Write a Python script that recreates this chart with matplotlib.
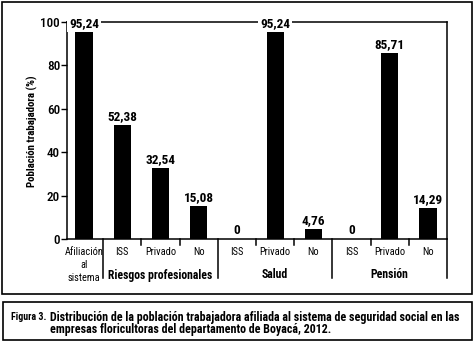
import matplotlib
matplotlib.use("Agg")
import matplotlib.pyplot as plt
from matplotlib.patches import Rectangle

plt.rcParams["font.family"] = ["Roboto Condensed", "Liberation Sans Narrow", "Liberation Sans", "DejaVu Sans"]

categories = ["Afiliación\nal\nsistema", "ISS", "Privado", "No",
              "ISS", "Privado", "No",
              "ISS", "Privado", "No"]
values = [95.24, 52.38, 32.54, 15.08, 0, 95.24, 4.76, 0, 85.71, 14.29]
value_labels = ["95,24", "52,38", "32,54", "15,08", "0", "95,24", "4,76", "0", "85,71", "14,29"]
groups = ["Riesgos profesionales", "Salud", "Pensión"]
group_centers = [2, 5, 8]
short_ticks = [1.5, 2.5, 4.5, 5.5, 7.5, 8.5]
long_ticks = [0.5, 3.5, 6.5]
caption_num = "Figura 3."
caption_lines = ["Distribución de la población trabajadora afiliada al sistema de seguridad social en las",
                 "empresas floricultoras del departamento de Boyacá, 2012."]

W, H = 475, 342
fig = plt.figure(figsize=(W / 100, H / 100), dpi=100)


def fx(px):
    return px / W


def fy(py):
    return 1 - py / H


def fit_width(txt, target_px):
    # scale font size so the text spans target_px pixels
    r = fig.canvas.get_renderer()
    w = txt.get_window_extent(renderer=r).width
    txt.set_fontsize(txt.get_fontsize() * target_px / w)


# outer boxes
fig.patches.append(Rectangle((fx(1.5), fy(294)), fx(471.5) - fx(1.5), fy(1.5) - fy(294),
                             transform=fig.transFigure, fill=False, lw=1.2, ec="black"))
fig.patches.append(Rectangle((fx(2.5), fy(340)), fx(472) - fx(2.5), fy(302) - fy(340),
                             transform=fig.transFigure, fill=False, lw=1.2, ec="black"))

ax = fig.add_axes([fx(67), fy(239), fx(447) - fx(67), fy(22) - fy(239)])
x = list(range(len(values)))
ax.bar(x, values, width=0.45, color="black", zorder=2)

ax.set_xlim(-0.445, 9.497)
ax.set_ylim(0, 100)
ax.set_yticks([0, 20, 40, 60, 80, 100])
ax.tick_params(axis="y", direction="out", length=4, width=1, labelsize=9.5, pad=1)
for lbl in ax.get_yticklabels():
    lbl.set_fontweight("medium")
ax.set_xticks([])
for s in ax.spines.values():
    s.set_linewidth(1.1)

for xi, v, lab in zip(x, values, value_labels):
    bbox = None
    if v > 90:
        bbox = dict(boxstyle="square,pad=0.15", fc="white", ec="none")
    ax.annotate(lab, (xi, v), xytext=(0, 6), textcoords="offset points",
                ha="center", va="center", fontsize=9.5, fontweight="bold",
                bbox=bbox, zorder=3)

# category separators below the axis
ext_short = 6 / 217
ext_long = 39 / 217
trans = ax.get_xaxis_transform()
for t in short_ticks:
    ax.plot([t, t], [0, -ext_short], color="black", lw=1.1, transform=trans, clip_on=False)
for t in long_ticks + [9.497]:
    ax.plot([t, t], [0, -ext_long], color="black", lw=1.1, transform=trans, clip_on=False)

for xi, c in zip(x, categories):
    ax.text(xi, -8 / 217, c, transform=trans, ha="center", va="top", fontsize=7.5,
            linespacing=1.35)

for gc, g in zip(group_centers, groups):
    ax.text(gc, -36 / 217, g, transform=trans, ha="center", va="center",
            fontsize=8.5, fontweight="bold")

fig.text(fx(32), fy(131), "Población trabajadora (%)", rotation=90, ha="center",
         va="center", fontsize=7.8, fontweight="bold")

t1 = fig.text(fx(50), fy(317), caption_lines[0], ha="left", va="center", fontsize=9, fontweight="bold")
t2 = fig.text(fx(50), fy(329), caption_lines[1], ha="left", va="center", fontsize=9, fontweight="bold")
fit_width(t1, 412)
cap_size = t1.get_fontsize()
t2.set_fontsize(cap_size)
fig.text(fx(11), fy(317), caption_num, ha="left", va="center", fontsize=cap_size * 0.82,
         fontweight="bold")

fig.savefig("out.png", dpi=100)
